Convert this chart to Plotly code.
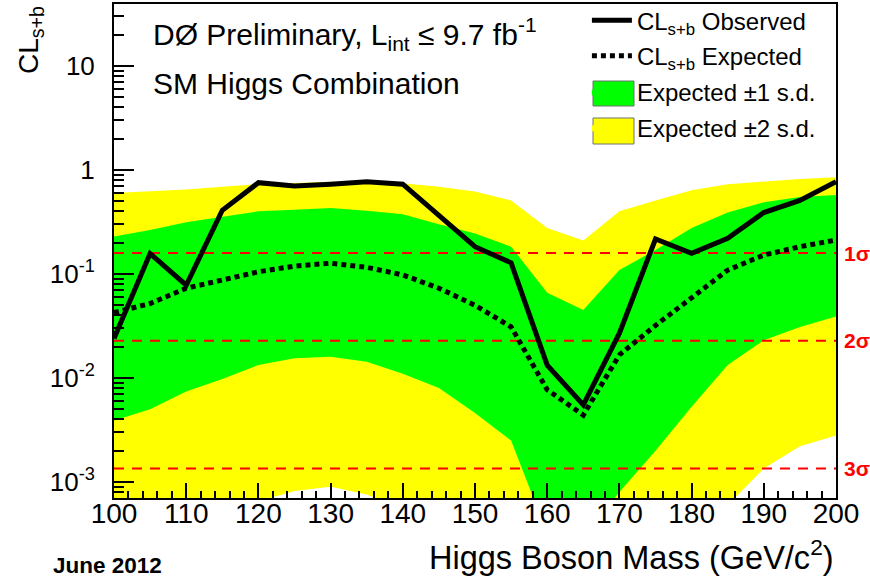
import math
import plotly.graph_objects as go

# ---------------- data ----------------
mass = [100, 105, 110, 115, 120, 125, 130, 135, 140, 145, 150,
        155, 160, 165, 170, 175, 180, 185, 190, 195, 200]

cls_obs = [0.024, 0.157, 0.078, 0.41, 0.755, 0.70, 0.73, 0.77, 0.73, 0.37, 0.183,
           0.128, 0.0133, 0.0055, 0.027, 0.217, 0.158, 0.22, 0.39, 0.51, 0.77]

cls_exp = [0.0425, 0.052, 0.073, 0.087, 0.105, 0.119, 0.127, 0.116, 0.098, 0.073, 0.050,
           0.031, 0.0077, 0.0044, 0.0167, 0.032, 0.060, 0.109, 0.152, 0.183, 0.212]

p1_hi = [0.229, 0.265, 0.315, 0.353, 0.40, 0.415, 0.43, 0.405, 0.375, 0.30, 0.245,
         0.183, 0.066, 0.045, 0.109, 0.17, 0.277, 0.39, 0.49, 0.55, 0.575]
p1_lo = [0.0039, 0.0050, 0.0074, 0.0098, 0.0133, 0.0155, 0.016, 0.0143, 0.011, 0.008, 0.0046,
         0.0025, 0.00032, 0.00030, 0.0008, 0.002, 0.0053, 0.0133, 0.023, 0.031, 0.039]

p2_hi = [0.60, 0.62, 0.65, 0.69, 0.73, 0.75, 0.77, 0.76, 0.745, 0.69, 0.62,
         0.51, 0.277, 0.21, 0.40, 0.51, 0.64, 0.73, 0.78, 0.82, 0.85]
p2_lo = [0.0001, 0.00015, 0.00025, 0.0004, 0.00065, 0.00082, 0.0009, 0.00076, 0.00054, 0.0004, 0.0002,
         0.0001, 0.00001, 0.00001, 0.00001, 0.0001, 0.00025, 0.0006, 0.00135, 0.0022, 0.0028]

sigma_levels = [0.1587, 0.02275, 0.00135]
sigma_labels = ["1σ", "2σ", "3σ"]
x_span = [100, 200]

y_tickvals = [0.001, 0.01, 0.1, 1, 10]
y_ticktext = ["10<sup>-3</sup>", "10<sup>-2</sup>", "10<sup>-1</sup>", "1", "10"]

FONT = "Liberation Sans, Arial, Helvetica, sans-serif"
GREEN = "#00ff00"
YELLOW = "#ffff00"

# minor tick positions of the log axis (2..9 in each decade)
minor_y = [m * 10.0 ** e for e in range(-4, 2) for m in range(2, 10)]

fig = go.Figure()

# ±2 s.d. band (yellow)
fig.add_trace(go.Scatter(
    x=mass + mass[::-1], y=p2_hi + p2_lo[::-1],
    fill="toself", fillcolor=YELLOW, mode="lines",
    line=dict(width=0, color=YELLOW),
    name="Expected ±2 s.d.", legendrank=4, legendgroup="d", hoverinfo="skip"))

# ±1 s.d. band (green)
fig.add_trace(go.Scatter(
    x=mass + mass[::-1], y=p1_hi + p1_lo[::-1],
    fill="toself", fillcolor=GREEN, mode="lines",
    line=dict(width=0, color=GREEN),
    name="Expected ±1 s.d.", legendrank=3, legendgroup="c", hoverinfo="skip"))

# significance reference lines
for lvl in sigma_levels:
    fig.add_trace(go.Scatter(
        x=x_span, y=[lvl, lvl], mode="lines",
        line=dict(color="#ff0000", width=2, dash="10px,8px"),
        showlegend=False, hoverinfo="skip"))

# expected
fig.add_trace(go.Scatter(
    x=mass, y=cls_exp, mode="lines",
    line=dict(color="black", width=5, dash="5px,4px"),
    name="CL<sub>s+b</sub> Expected", legendrank=2, legendgroup="b"))

# observed
fig.add_trace(go.Scatter(
    x=mass, y=cls_obs, mode="lines",
    line=dict(color="black", width=5),
    name="CL<sub>s+b</sub> Observed", legendrank=1, legendgroup="a"))

fig.update_layout(
    width=870, height=584,
    margin=dict(l=114, r=34, t=4, b=86, autoexpand=False),
    paper_bgcolor="white", plot_bgcolor="white",
    font=dict(family=FONT, color="black"),
    showlegend=True,
    legend=dict(x=0.655, y=1.012, xanchor="left", yanchor="top",
                bgcolor="rgba(0,0,0,0)", borderwidth=0,
                font=dict(size=24, family=FONT),
                tracegroupgap=1.5, itemwidth=40),
    xaxis=dict(range=[100, 200], tickmode="linear", tick0=100, dtick=10,
               ticks="inside", ticklen=15, tickwidth=1.5, tickcolor="black",
               minor=dict(dtick=2, ticks="inside", ticklen=7, tickwidth=1.5, tickcolor="black"),
               showgrid=False, zeroline=False, ticklabelstandoff=-11,
               showline=True, linecolor="black", linewidth=2, mirror=True,
               tickfont=dict(size=28, family=FONT)),
    yaxis=dict(type="log", range=[-3.154, 1.596],
               tickmode="array", tickvals=y_tickvals, ticktext=y_ticktext,
               ticks="inside", ticklen=20, tickwidth=1.5, tickcolor="black",
               minor=dict(tickmode="array", tickvals=minor_y, ticks="inside", ticklen=10,
                          tickwidth=1.5, tickcolor="black", showgrid=False),
               showgrid=False, zeroline=False, ticklabelstandoff=12,
               showline=True, linecolor="black", linewidth=2, mirror=True,
               tickfont=dict(size=26, family=FONT)),
)

# legend boxes for the bands (ROOT-style filled boxes with grey outline)
def px_x(p):
    return (p - 114) / 722.0

def px_y(p):
    return (498 - p) / 494.0

for (top, bot, col) in [(81, 106, GREEN), (118, 144, YELLOW)]:
    fig.add_shape(type="rect", xref="paper", yref="paper",
                  x0=px_x(593), x1=px_x(634), y0=px_y(bot), y1=px_y(top),
                  fillcolor=col, line=dict(color="#707070", width=1), layer="above")

fig.add_annotation(text="DØ Preliminary, L<sub>int</sub> ≤ 9.7 fb<sup>-1</sup>",
                   xref="paper", yref="paper", x=px_x(151), y=px_y(34),
                   xanchor="left", yanchor="middle", showarrow=False,
                   font=dict(size=30, family=FONT))
fig.add_annotation(text="SM Higgs Combination",
                   xref="paper", yref="paper", x=px_x(151), y=px_y(84),
                   xanchor="left", yanchor="middle", showarrow=False,
                   font=dict(size=30, family=FONT))
fig.add_annotation(text="Higgs Boson Mass (GeV/c<sup>2</sup>)",
                   xref="paper", yref="paper", x=1.0, y=px_y(555),
                   xanchor="right", yanchor="middle", showarrow=False,
                   font=dict(size=32.5, family=FONT))
fig.add_annotation(text="<b>June 2012</b>",
                   xref="paper", yref="paper", x=px_x(51), y=px_y(565),
                   xanchor="left", yanchor="middle", showarrow=False,
                   font=dict(size=22.5, family=FONT))
fig.add_annotation(text="CL<sub>s+b</sub>", textangle=-90,
                   xref="paper", yref="paper", x=px_x(30), y=1.0,
                   xanchor="center", yanchor="top", showarrow=False,
                   font=dict(size=28, family=FONT))
for lvl, lab in zip(sigma_levels, sigma_labels):
    fig.add_annotation(text="<b>" + lab + "</b>", xref="paper", yref="y",
                       x=1.008, y=math.log10(lvl), xanchor="left", yanchor="middle",
                       showarrow=False, font=dict(size=21, color="#ff0000", family=FONT))

fig.write_html("out.html")
